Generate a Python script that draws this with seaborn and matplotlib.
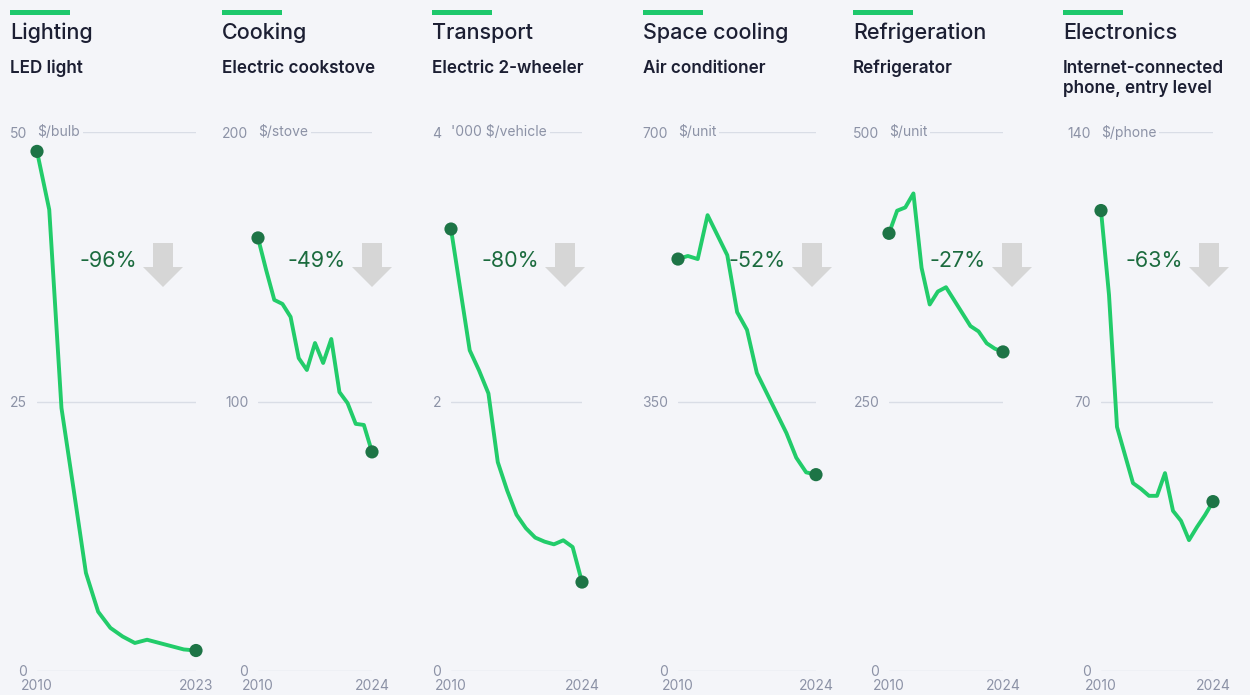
import pandas as pd
import matplotlib.pyplot as plt
import seaborn as sns
from matplotlib.patches import Polygon, Rectangle

# Values
titles = ['Lighting', 'Cooking', 'Transport', 'Space cooling', 'Refrigeration', 'Electronics']
subtitles = ['LED light', 'Electric cookstove', 'Electric 2-wheeler', 'Air conditioner',
             'Refrigerator', 'Internet-connected\nphone, entry level']
units = ['$/bulb', '$/stove', "'000 $/vehicle", '$/unit', '$/unit', '$/phone']
y_max = [50, 200, 4, 700, 500, 140]
start_years = [2010, 2010, 2010, 2010, 2010, 2010]
end_years = [2023, 2024, 2024, 2024, 2024, 2024]

lighting = [48.2, 42.8, 24.4, 16.8, 9.1, 5.5, 4.0, 3.2, 2.6, 2.9, 2.6, 2.3, 2.0, 1.9]
cooking = [160.7, 148.8, 137.7, 136.2, 131.4, 116.1, 111.7, 121.7, 114.3, 123.2,
           103.5, 99.4, 91.7, 91.3, 81.3]
transport = [3.28, 2.83, 2.38, 2.23, 2.06, 1.55, 1.34, 1.16, 1.06, 0.99, 0.96, 0.94,
             0.97, 0.92, 0.66]
cooling = [535, 539, 535, 592, 566, 540, 466, 443, 387, 361, 335, 309, 277, 258, 255]
fridge = [406, 427, 430, 443, 374, 340, 352, 356, 344, 332, 320, 315, 304, 299, 296]
phone = [119.6, 97.7, 63.4, 56.1, 48.8, 47.3, 45.5, 45.5, 51.4, 41.6, 39.0, 34.0,
         37.4, 40.5, 44.0]
series = [lighting, cooking, transport, cooling, fridge, phone]

# colours
BG = '#f4f5f9'
LINE = '#22cc6a'
DOT = '#1d7446'
PCT = '#1b6b3e'
ARROW = '#d6d6d6'
TXT = '#1c1f33'
TICK = '#8c92a6'
GRID = '#d9dde6'

# layout, in pixels of a 1250x695 canvas
W, H = 1250, 695
panel_left = [10, 222, 432, 643, 853, 1063]
plot_x0 = [37, 258, 451, 678, 889, 1101]
plot_x1 = [196, 372, 582, 816, 1003, 1213]
arrow_x = [163, 372, 565, 812, 1012, 1209]
y_top, y_zero = 132, 671

sns.set_theme(style='white', rc={'axes.facecolor': BG, 'figure.facecolor': BG})
plt.rcParams['font.family'] = ['Inter', 'DejaVu Sans']


def fx(px):
    return px / W


def fy(py):
    return 1 - py / H


fig = plt.figure(figsize=(12.5, 6.95), dpi=100)

for i in range(6):
    years = list(range(start_years[i], end_years[i] + 1))
    df = pd.DataFrame({'year': years, 'value': series[i]})
    top = y_max[i]

    ax = fig.add_axes([fx(plot_x0[i]), fy(y_zero), fx(plot_x1[i] - plot_x0[i]),
                       (y_zero - y_top) / H])
    ax.set_facecolor('none')
    sns.lineplot(data=df, x='year', y='value', ax=ax, color=LINE, lw=2.8,
                 legend=False, clip_on=False, zorder=4)
    ends = df.iloc[[0, -1]]
    sns.scatterplot(data=ends, x='year', y='value', ax=ax, color=DOT, s=90,
                    edgecolor='none', legend=False, clip_on=False, zorder=5)

    ax.set_xlim(start_years[i], end_years[i])
    ax.set_ylim(0, top)
    ax.set_yticks([0, top / 2, top])
    ax.set_yticklabels([f'{v:g}' for v in [0, top / 2, top]])
    ax.set_xticks([start_years[i], end_years[i]])
    ax.grid(axis='y', color=GRID, lw=1)
    ax.grid(axis='x', visible=False)
    ax.tick_params(axis='both', length=0, colors=TICK, labelsize=10)
    ax.tick_params(axis='y', pad=7)
    ax.tick_params(axis='x', pad=5.5)
    ax.set_xlabel('')
    ax.set_ylabel('')
    for s in ax.spines.values():
        s.set_visible(False)

    # unit next to the top tick, masking the gridline behind it
    ax.text(start_years[i], top, units[i], ha='left', va='center', fontsize=10,
            color=TICK, zorder=3,
            bbox=dict(facecolor=BG, edgecolor='none', pad=2))

    # header: green bar, title, subtitle
    fig.add_artist(Rectangle((fx(panel_left[i]), fy(14.5)), fx(60), 5 / H,
                             transform=fig.transFigure, color='#1ec86c', lw=0))
    fig.text(fx(panel_left[i]), fy(39), titles[i], fontsize=15.5, weight='medium',
             color=TXT, va='baseline', ha='left')
    for j, line in enumerate(subtitles[i].split('\n')):
        fig.text(fx(panel_left[i]), fy(73 + 20 * j), line, fontsize=12.3,
                 weight='semibold', color=TXT, va='baseline', ha='left')

    # change label and arrow
    change = round((series[i][-1] / series[i][0] - 1) * 100)
    ax_c = arrow_x[i]
    fig.text(fx(ax_c - 26), fy(261), f'{change}%', fontsize=15.5, color=PCT,
             ha='right', va='center')
    pts = [(ax_c - 10, 243), (ax_c + 10, 243), (ax_c + 10, 267), (ax_c + 20, 267),
           (ax_c, 287), (ax_c - 20, 267), (ax_c - 10, 267)]
    fig.add_artist(Polygon([(fx(x), fy(y)) for x, y in pts], closed=True,
                           transform=fig.transFigure, color=ARROW, lw=0))

fig.savefig('out.png', dpi=100, facecolor=BG)
